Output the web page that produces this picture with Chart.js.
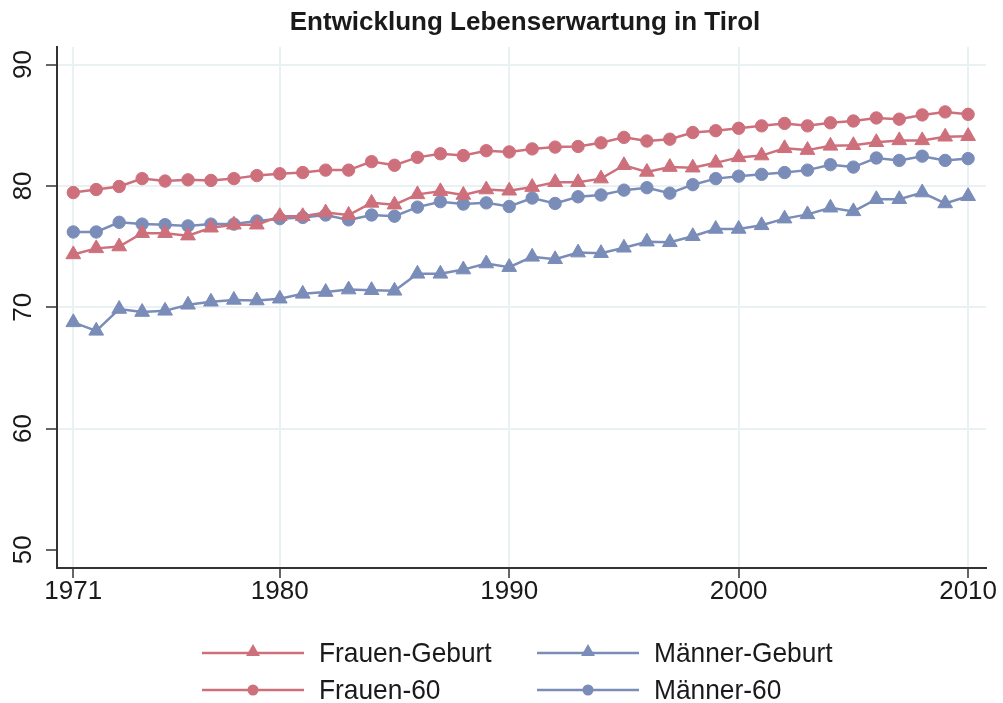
<!DOCTYPE html>
<html>
<head>
<meta charset="utf-8">
<title>Entwicklung Lebenserwartung in Tirol</title>
<script src="https://cdn.jsdelivr.net/npm/chart.js@4.4.1/dist/chart.umd.min.js"></script>
<style>
    body { margin: 0; background: #fff; }
    #wrap { width: 1003px; height: 703px; }
</style>
</head>
<body>
<div id="wrap"><canvas id="lebenserwartung" width="1003" height="703"></canvas></div>
<script>
    "use strict";

    // Data
    var years = [1971, 1972, 1973, 1974, 1975, 1976, 1977, 1978, 1979, 1980,
                 1981, 1982, 1983, 1984, 1985, 1986, 1987, 1988, 1989, 1990,
                 1991, 1992, 1993, 1994, 1995, 1996, 1997, 1998, 1999, 2000,
                 2001, 2002, 2003, 2004, 2005, 2006, 2007, 2008, 2009, 2010];
    var frauenGeburt = [74.35, 74.85, 75.0, 76.1, 76.1, 75.9, 76.55, 76.8, 76.8, 77.5,
                        77.5, 77.8, 77.6, 78.6, 78.45, 79.3, 79.55, 79.25, 79.7, 79.6,
                        79.9, 80.3, 80.3, 80.6, 81.7, 81.15, 81.55, 81.5, 81.9, 82.35,
                        82.5, 83.1, 82.95, 83.3, 83.35, 83.6, 83.75, 83.75, 84.05, 84.1];
    var maennerGeburt = [68.75, 68.05, 69.85, 69.6, 69.7, 70.2, 70.45, 70.6, 70.55, 70.7,
                         71.1, 71.25, 71.45, 71.4, 71.35, 72.75, 72.75, 73.1, 73.6, 73.3,
                         74.15, 73.95, 74.5, 74.45, 74.9, 75.4, 75.35, 75.85, 76.45, 76.45,
                         76.75, 77.3, 77.65, 78.2, 77.9, 78.9, 78.9, 79.45, 78.55, 79.15];
    var frauen60 = [79.45, 79.7, 79.95, 80.6, 80.4, 80.5, 80.45, 80.6, 80.85, 81.0,
                    81.1, 81.3, 81.3, 82.0, 81.7, 82.35, 82.65, 82.5, 82.9, 82.8,
                    83.05, 83.2, 83.25, 83.55, 84.0, 83.7, 83.85, 84.4, 84.55, 84.75,
                    84.95, 85.15, 84.95, 85.2, 85.35, 85.6, 85.5, 85.85, 86.1, 85.9];
    var maenner60 = [76.2, 76.2, 77.0, 76.85, 76.8, 76.7, 76.85, 76.85, 77.1, 77.3,
                     77.4, 77.6, 77.2, 77.6, 77.5, 78.25, 78.7, 78.5, 78.6, 78.3,
                     79.0, 78.55, 79.1, 79.25, 79.65, 79.85, 79.4, 80.1, 80.6, 80.8,
                     80.95, 81.1, 81.3, 81.75, 81.55, 82.3, 82.1, 82.45, 82.1, 82.25];
    var xTicks = [1971, 1980, 1990, 2000, 2010];
    var yTicks = [50, 60, 70, 80, 90];
    var chartTitle = "Entwicklung Lebenserwartung in Tirol";

    var RED = "#cd707c";
    var BLUE = "#7a8cb8";
    var GRID = "#e9f1f3";
    var AXIS = "#333333";
    var TEXT = "#1a1a1a";
    var FONT = "'Liberation Sans', Arial, Helvetica, sans-serif";

    function pts(values) {
        return values.map(function (v, i) { return {x: years[i], y: v}; });
    }

    function series(label, values, color, style) {
        return {
            label: label,
            data: pts(values),
            borderColor: color,
            backgroundColor: color,
            borderWidth: 2.5,
            pointStyle: style,
            pointRadius: style === "triangle" ? 8.5 : 6.2,
            pointBorderWidth: 1,
            tension: 0
        };
    }

    // Title + legend drawn by hand (Stata-like placement)
    var legendSlots = [
        {x: 202, y: 653}, {x: 537, y: 653},
        {x: 202, y: 690}, {x: 537, y: 690}
    ];
    var stataDecor = {
        id: "stataDecor",
        afterDraw: function (chart) {
            var ctx = chart.ctx;
            ctx.save();

            // Title
            ctx.fillStyle = TEXT;
            ctx.font = "bold 26px " + FONT;
            ctx.textAlign = "center";
            ctx.textBaseline = "middle";
            ctx.fillText(chartTitle, 525, 23);

            // Legend
            chart.data.datasets.forEach(function (ds, i) {
                var s = legendSlots[i];
                var tri = ds.pointStyle === "triangle";
                ctx.strokeStyle = ds.borderColor;
                ctx.lineWidth = 2.5;
                ctx.beginPath();
                ctx.moveTo(s.x, s.y);
                ctx.lineTo(s.x + 102, s.y);
                ctx.stroke();
                ctx.fillStyle = ds.borderColor;
                Chart.helpers.drawPoint(ctx, {
                    pointStyle: ds.pointStyle,
                    rotation: 0,
                    radius: tri ? 8 : 5.5,
                    borderWidth: 0
                }, s.x + 51, tri ? s.y - 1 : s.y);
                // slightly condensed text, like the original
                ctx.save();
                ctx.translate(s.x + 117, s.y + 1);
                ctx.scale(0.94, 1);
                ctx.fillStyle = TEXT;
                ctx.font = "28px " + FONT;
                ctx.textAlign = "left";
                ctx.textBaseline = "middle";
                ctx.fillText(ds.label, 0, 0);
                ctx.restore();
            });
            ctx.restore();
        }
    };

    var ctx1 = document.getElementById("lebenserwartung").getContext("2d");
    var myChart1 = new Chart(ctx1, {
        type: "line",
        data: {
            datasets: [
                series("Frauen-Geburt", frauenGeburt, RED, "triangle"),
                series("Männer-Geburt", maennerGeburt, BLUE, "triangle"),
                series("Frauen-60", frauen60, RED, "circle"),
                series("Männer-60", maenner60, BLUE, "circle")
            ]
        },
        options: {
            responsive: false,
            animation: false,
            layout: {padding: {top: 47, left: 0, right: 17, bottom: 85}},
            plugins: {
                legend: {display: false},
                tooltip: {enabled: false},
                title: {display: false}
            },
            scales: {
                x: {
                    type: "linear",
                    min: 1970.29,
                    max: 2010.78,
                    afterBuildTicks: function (scale) {
                        scale.ticks = xTicks.map(function (v) { return {value: v}; });
                    },
                    afterFit: function (scale) {
                        scale.height = 50;
                        scale.paddingLeft = 0;
                        scale.paddingRight = 0;
                    },
                    border: {color: AXIS, width: 2},
                    grid: {color: GRID, lineWidth: 2, tickColor: AXIS, tickLength: 10, tickWidth: 1.5},
                    ticks: {
                        color: TEXT,
                        padding: -2,
                        maxRotation: 0,
                        font: {family: FONT, size: 26},
                        callback: function (v) { return String(v); }
                    }
                },
                y: {
                    min: 48.5,
                    max: 91.45,
                    afterBuildTicks: function (scale) {
                        scale.ticks = yTicks.map(function (v) { return {value: v}; });
                    },
                    afterFit: function (scale) {
                        scale.width = 57;
                        scale.paddingTop = 0;
                        scale.paddingBottom = 0;
                    },
                    border: {color: AXIS, width: 2},
                    grid: {
                        color: function (c) { return c.tick && c.tick.value === 50 ? "rgba(0,0,0,0)" : GRID; },
                        lineWidth: 2,
                        tickColor: AXIS,
                        tickLength: 11,
                        tickWidth: 1.5
                    },
                    ticks: {
                        color: TEXT,
                        padding: 8,
                        minRotation: 90,
                        maxRotation: 90,
                        crossAlign: "center",
                        font: {family: FONT, size: 26},
                        callback: function (v) { return String(v); }
                    }
                }
            }
        },
        plugins: [stataDecor]
    });
</script>
</body>
</html>
